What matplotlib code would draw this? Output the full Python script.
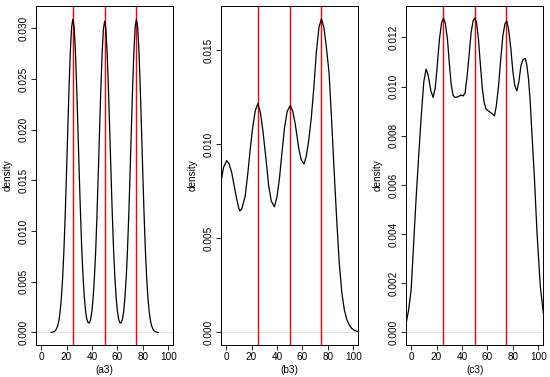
import numpy as np
import matplotlib
matplotlib.use("Agg")
import matplotlib.pyplot as plt

plt.rcParams['font.family'] = ['Liberation Sans', 'DejaVu Sans']

# panel (a3): density
a_x = [8, 9, 10, 11, 12, 13, 14, 15, 16, 17, 18, 19, 20, 21, 22, 23, 24, 25,
       26, 27, 28, 29, 30, 31, 32, 33, 34, 35, 36, 37, 38, 39, 40, 41, 42, 43,
       44, 45, 46, 47, 48, 49, 50, 51, 52, 53, 54, 55, 56, 57, 58, 59, 60, 61,
       62, 63, 64, 65, 66, 67, 68, 69, 70, 71, 72, 73, 74, 75, 76, 77, 78, 79,
       80, 81, 82, 83, 84, 85, 86, 87, 88, 89, 90, 91, 92]
a_y = [0.00001, 0.00003, 0.00007, 0.00015, 0.00032, 0.00063, 0.00117, 0.00207,
       0.00346, 0.0055, 0.0082, 0.0117, 0.0157, 0.0200, 0.0242, 0.0277, 0.0301,
       0.0309, 0.0301, 0.0277, 0.0242, 0.0200, 0.0157, 0.0117, 0.0082, 0.0055,
       0.0035, 0.0021, 0.0013, 0.00095, 0.00095, 0.0013, 0.0021, 0.0035, 0.0055,
       0.0082, 0.0117, 0.0157, 0.0199, 0.0240, 0.0275, 0.0299, 0.0307, 0.0299,
       0.0275, 0.0240, 0.0199, 0.0157, 0.0117, 0.0082, 0.0055, 0.0035, 0.0021,
       0.0013, 0.00095, 0.00095, 0.0013, 0.0021, 0.0035, 0.0055, 0.0082, 0.0117,
       0.0157, 0.0200, 0.0242, 0.0277, 0.0301, 0.0309, 0.0301, 0.0277, 0.0242,
       0.0200, 0.0157, 0.0117, 0.0082, 0.0055, 0.00346, 0.00207, 0.00117,
       0.00063, 0.00032, 0.00015, 0.00007, 0.00003, 0.00001]

# panel (b3)
b_x = [-4.0, -2.0, 0.5, 2.5, 4.5, 6.5, 8.5, 10.0, 11.0, 12.5, 15.0, 17.0, 19.0,
       21.0, 23.0, 25.0, 27.0, 29.0, 31.5, 33.5, 35.5, 38.0, 40.0, 42.0, 44.0,
       46.0, 48.0, 50.5, 52.5, 54.5, 57.0, 59.0, 61.3, 63.0, 65.0, 67.0, 69.0,
       71.0, 73.0, 75.0, 77.0, 79.0, 81.0, 83.0, 85.0, 87.0, 89.0, 91.0, 93.0,
       95.0, 97.0, 99.0, 101.3, 104.0]
b_y = [0.0080, 0.00878, 0.00914, 0.00895, 0.00848, 0.00775, 0.00705, 0.00660,
       0.00646, 0.00660, 0.00724, 0.00840, 0.00975, 0.01095, 0.01180, 0.01217,
       0.01170, 0.01070, 0.00915, 0.00780, 0.00700, 0.00668, 0.00720, 0.00820,
       0.00960, 0.01090, 0.01175, 0.01207, 0.01175, 0.01105, 0.00985, 0.00920,
       0.00896, 0.00935, 0.01020, 0.01140, 0.01300, 0.01490, 0.01620, 0.01670,
       0.01620, 0.01510, 0.01380, 0.01130, 0.00860, 0.00600, 0.00370, 0.00215,
       0.00120, 0.00068, 0.00038, 0.00020, 0.00010, 0.00004]

# panel (c3)
c_x = [-4.0, -2.0, 0.0, 2.0, 4.0, 6.0, 8.0, 10.0, 11.8, 13.5, 15.5, 17.3, 19.0,
       20.5, 22.3, 24.0, 25.5, 27.0, 28.6, 30.0, 31.5, 33.0, 34.5, 36.5, 38.0,
       39.4, 41.0, 42.5, 44.0, 45.5, 47.2, 48.8, 50.1, 51.5, 53.0, 54.5, 56.0,
       57.5, 59.0, 61.0, 63.0, 65.6, 67.0, 68.8, 70.5, 72.2, 73.8, 75.3, 76.8,
       78.5, 80.0, 81.5, 83.2, 84.8, 86.4, 88.0, 89.8, 91.0, 92.4, 93.7, 95.0,
       97.0, 99.0, 101.6, 104.0]
c_y = [0.00035, 0.0009, 0.0017, 0.0036, 0.0055, 0.0072, 0.0088, 0.0102, 0.01071,
       0.01045, 0.00985, 0.00956, 0.00995, 0.01080, 0.01193, 0.01260, 0.01279,
       0.01255, 0.01193, 0.01100, 0.01010, 0.00965, 0.00956, 0.00958, 0.00962,
       0.00966, 0.00962, 0.00975, 0.01040, 0.01120, 0.01220, 0.01268, 0.01279,
       0.01260, 0.01193, 0.01090, 0.00995, 0.00935, 0.00909, 0.00900, 0.00893,
       0.00881, 0.00920, 0.01003, 0.01110, 0.01207, 0.01255, 0.01267, 0.01230,
       0.01153, 0.01065, 0.01005, 0.00983, 0.01020, 0.01085, 0.01110, 0.01115,
       0.01090, 0.01030, 0.00940, 0.00814, 0.0063, 0.0041, 0.0019, 0.0008]

centers = [25, 50, 75]
labels = ['(a3)', '(b3)', '(c3)']
x_ticks = [0, 20, 40, 60, 80, 100]
y_ticks = [
    [0.000, 0.005, 0.010, 0.015, 0.020, 0.025, 0.030],
    [0.000, 0.005, 0.010, 0.015],
    [0.000, 0.002, 0.004, 0.006, 0.008, 0.010, 0.012],
]
ylims = [(-0.00124, 0.03224), (-0.00067, 0.01739), (-0.00051, 0.0133)]

fig = plt.figure(figsize=(5.5, 3.77), dpi=100)
lefts = [36 / 550, 221 / 550, 406 / 550]
fs = 7.2

for i, (xs, ys) in enumerate([(a_x, a_y), (b_x, b_y), (c_x, c_y)]):
    ax = fig.add_axes([lefts[i], 0.0849, 137.3 / 550, 0.9005])
    ax.axhline(0, color='#d8d8d8', lw=0.5, zorder=1)
    for c in centers:
        ax.axvline(c, color='red', lw=1.0, zorder=2)
    ax.plot(xs, ys, color='black', lw=0.9, zorder=3)
    ax.set_xlim(-4, 104)
    ax.set_ylim(*ylims[i])
    ax.set_xticks(x_ticks)
    ax.set_xticklabels([str(t) for t in x_ticks], fontsize=fs)
    ax.set_yticks(y_ticks[i])
    ax.set_yticklabels(['%.3f' % t for t in y_ticks[i]], fontsize=fs,
                       rotation=90, va='center')
    ax.tick_params(direction='out', length=3.5, width=0.6, pad=1.5)
    for s in ax.spines.values():
        s.set_linewidth(0.7)
    ax.set_xlabel(labels[i], fontsize=fs)
    ax.xaxis.set_label_coords(0.5, -0.058)
    ax.set_ylabel('density', fontsize=fs)
    ax.yaxis.set_label_coords(-0.17, 0.5)

fig.savefig('out.png', dpi=100)
